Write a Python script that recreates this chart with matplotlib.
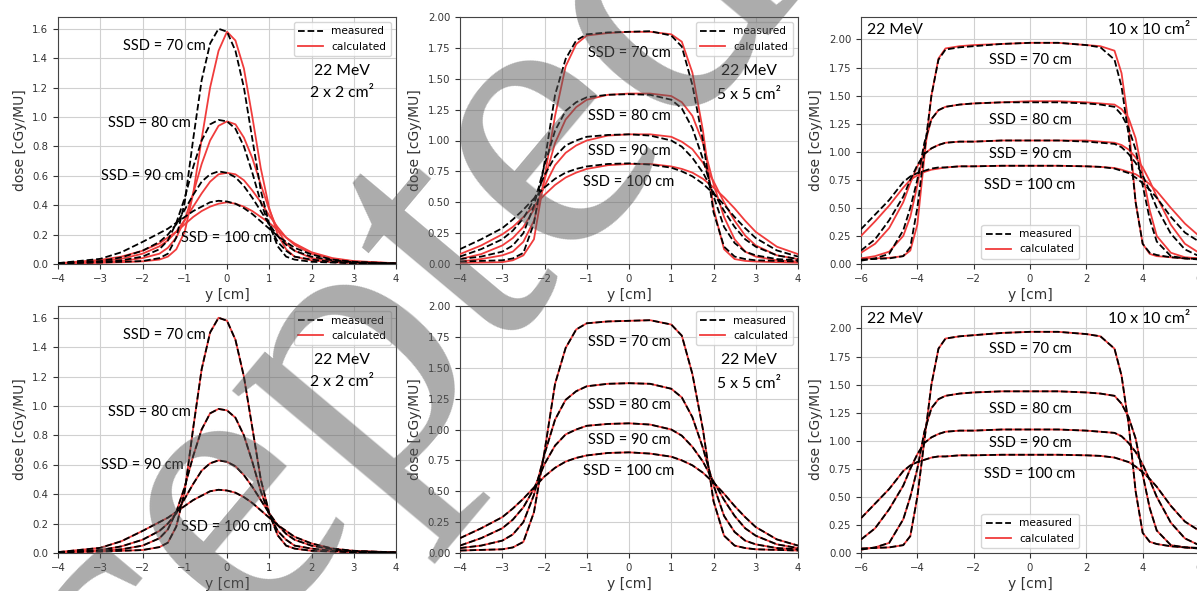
import matplotlib.pyplot as plt
from matplotlib.ticker import FormatStrFormatter, MultipleLocator

ssd = [70, 80, 90, 100]

# 2 x 2 cm2 field
x_2 = [-4, -3, -2.5, -2, -1.6, -1.4, -1.2, -1.0, -0.8, -0.6, -0.4, -0.2, 0,
       0.2, 0.4, 0.6, 0.8, 1.0, 1.2, 1.4, 1.6, 2, 2.5, 3, 4]
meas_2 = [
    [0.005, 0.01, 0.015, 0.02, 0.04, 0.07, 0.18, 0.42, 0.85, 1.25, 1.50, 1.60, 1.58,
     1.45, 1.20, 0.85, 0.50, 0.27, 0.12, 0.05, 0.03, 0.015, 0.01, 0.005, 0.003],
    [0.005, 0.015, 0.025, 0.05, 0.1, 0.16, 0.28, 0.45, 0.66, 0.84, 0.95, 0.98, 0.97,
     0.92, 0.80, 0.62, 0.42, 0.26, 0.15, 0.09, 0.05, 0.03, 0.015, 0.008, 0.003],
    [0.005, 0.02, 0.045, 0.09, 0.15, 0.2, 0.27, 0.37, 0.47, 0.56, 0.61, 0.63, 0.62,
     0.59, 0.53, 0.45, 0.36, 0.27, 0.19, 0.13, 0.09, 0.05, 0.025, 0.012, 0.003],
    [0.006, 0.035, 0.08, 0.15, 0.21, 0.24, 0.28, 0.32, 0.36, 0.39, 0.42, 0.43, 0.425,
     0.41, 0.38, 0.34, 0.29, 0.24, 0.19, 0.15, 0.11, 0.065, 0.03, 0.015, 0.004],
]
calc_2 = [
    [0.003, 0.008, 0.012, 0.018, 0.03, 0.05, 0.1, 0.22, 0.48, 0.85, 1.2, 1.45, 1.58,
     1.52, 1.33, 1.0, 0.65, 0.38, 0.2, 0.1, 0.05, 0.025, 0.012, 0.006, 0.003],
    [0.004, 0.012, 0.02, 0.04, 0.07, 0.11, 0.18, 0.3, 0.48, 0.68, 0.84, 0.94, 0.97,
     0.95, 0.86, 0.72, 0.54, 0.37, 0.23, 0.14, 0.09, 0.04, 0.02, 0.01, 0.003],
    [0.004, 0.018, 0.035, 0.07, 0.12, 0.16, 0.22, 0.30, 0.39, 0.48, 0.56, 0.61, 0.62,
     0.61, 0.57, 0.50, 0.42, 0.33, 0.25, 0.18, 0.13, 0.07, 0.035, 0.017, 0.004],
    [0.005, 0.028, 0.05, 0.09, 0.14, 0.18, 0.22, 0.27, 0.32, 0.36, 0.39, 0.41, 0.42,
     0.41, 0.39, 0.36, 0.32, 0.28, 0.23, 0.18, 0.14, 0.08, 0.04, 0.02, 0.005],
]

# 5 x 5 cm2 field
x_5 = [-4, -3.5, -3, -2.75, -2.5, -2.25, -2, -1.75, -1.5, -1.25, -1, -0.5, 0,
       0.5, 1, 1.25, 1.5, 1.75, 2, 2.25, 2.5, 2.75, 3, 3.5, 4]
meas_5 = [
    [0.02, 0.025, 0.03, 0.045, 0.09, 0.33, 0.82, 1.37, 1.66, 1.81, 1.86, 1.875, 1.88,
     1.885, 1.85, 1.76, 1.45, 1.0, 0.42, 0.14, 0.06, 0.04, 0.03, 0.025, 0.02],
    [0.04, 0.06, 0.1, 0.15, 0.25, 0.47, 0.8, 1.08, 1.24, 1.31, 1.35, 1.37, 1.375,
     1.37, 1.33, 1.26, 1.1, 0.85, 0.55, 0.3, 0.17, 0.1, 0.07, 0.04, 0.03],
    [0.06, 0.12, 0.2, 0.27, 0.37, 0.52, 0.72, 0.87, 0.96, 1.0, 1.03, 1.045, 1.05,
     1.04, 1.0, 0.95, 0.86, 0.74, 0.58, 0.43, 0.3, 0.2, 0.14, 0.07, 0.04],
    [0.12, 0.2, 0.29, 0.36, 0.44, 0.53, 0.62, 0.69, 0.74, 0.77, 0.79, 0.81, 0.815,
     0.805, 0.78, 0.75, 0.71, 0.65, 0.57, 0.48, 0.38, 0.29, 0.21, 0.11, 0.06],
]
calc_5 = [
    [0.01, 0.012, 0.015, 0.03, 0.07, 0.2, 0.7, 1.2, 1.6, 1.78, 1.85, 1.87, 1.88,
     1.88, 1.86, 1.8, 1.55, 1.08, 0.45, 0.12, 0.04, 0.025, 0.02, 0.015, 0.01],
    [0.02, 0.04, 0.07, 0.1, 0.18, 0.35, 0.68, 0.98, 1.17, 1.27, 1.33, 1.37, 1.38,
     1.38, 1.36, 1.31, 1.2, 0.98, 0.65, 0.38, 0.2, 0.1, 0.06, 0.03, 0.02],
    [0.04, 0.08, 0.15, 0.21, 0.3, 0.44, 0.63, 0.8, 0.9, 0.96, 1.0, 1.04, 1.05,
     1.05, 1.03, 0.99, 0.93, 0.82, 0.67, 0.5, 0.35, 0.23, 0.15, 0.07, 0.04],
    [0.08, 0.15, 0.24, 0.3, 0.38, 0.47, 0.56, 0.64, 0.7, 0.74, 0.77, 0.8, 0.81,
     0.81, 0.79, 0.77, 0.74, 0.69, 0.62, 0.54, 0.45, 0.35, 0.26, 0.14, 0.08],
]

# 10 x 10 cm2 field
x_10 = [-6, -5.5, -5, -4.5, -4.25, -4, -3.75, -3.5, -3.25, -3, -2.5, -2, -1, 0,
        1, 2, 2.5, 3, 3.25, 3.5, 3.75, 4, 4.25, 4.5, 5, 5.5, 6]
meas_10 = [
    [0.04, 0.045, 0.05, 0.07, 0.15, 0.5, 1.0, 1.5, 1.82, 1.91, 1.93, 1.94, 1.96, 1.97,
     1.97, 1.95, 1.93, 1.82, 1.58, 1.15, 0.55, 0.18, 0.1, 0.08, 0.06, 0.05, 0.045],
    [0.03, 0.05, 0.09, 0.3, 0.5, 0.75, 1.08, 1.29, 1.37, 1.40, 1.42, 1.43, 1.44, 1.44,
     1.44, 1.43, 1.42, 1.40, 1.33, 1.21, 1.02, 0.7, 0.4, 0.2, 0.07, 0.05, 0.04],
    [0.12, 0.22, 0.39, 0.6, 0.75, 0.88, 0.98, 1.03, 1.06, 1.08, 1.09, 1.09, 1.10, 1.10,
     1.10, 1.09, 1.08, 1.07, 1.04, 0.98, 0.9, 0.79, 0.65, 0.5, 0.27, 0.13, 0.07],
    [0.31, 0.44, 0.57, 0.73, 0.78, 0.81, 0.83, 0.85, 0.86, 0.86, 0.87, 0.87, 0.875, 0.875,
     0.875, 0.87, 0.865, 0.85, 0.83, 0.81, 0.77, 0.72, 0.66, 0.59, 0.42, 0.28, 0.2],
]
calc_10 = [
    [0.05, 0.05, 0.055, 0.07, 0.12, 0.35, 0.95, 1.5, 1.83, 1.92, 1.94, 1.95, 1.96, 1.97,
     1.97, 1.95, 1.94, 1.9, 1.7, 1.25, 0.55, 0.18, 0.09, 0.07, 0.06, 0.05, 0.05],
    [0.05, 0.07, 0.11, 0.25, 0.42, 0.7, 1.05, 1.29, 1.37, 1.40, 1.42, 1.43, 1.44, 1.45,
     1.45, 1.44, 1.43, 1.42, 1.38, 1.3, 1.12, 0.8, 0.48, 0.25, 0.1, 0.06, 0.05],
    [0.1, 0.18, 0.32, 0.55, 0.72, 0.87, 0.98, 1.03, 1.06, 1.08, 1.09, 1.09, 1.10, 1.10,
     1.10, 1.10, 1.09, 1.08, 1.06, 1.02, 0.95, 0.86, 0.74, 0.6, 0.35, 0.18, 0.1],
    [0.25, 0.38, 0.52, 0.68, 0.75, 0.79, 0.82, 0.84, 0.85, 0.86, 0.87, 0.87, 0.875, 0.875,
     0.875, 0.87, 0.865, 0.855, 0.84, 0.82, 0.8, 0.76, 0.71, 0.65, 0.5, 0.36, 0.25],
]

# in the lower row the calculated profiles lie on top of the measured ones
calc_2_new = meas_2
calc_5_new = meas_5
calc_10_new = meas_10

plt.rcParams['font.family'] = 'DejaVu Sans'
anno_font = 'Lato'
red = '#f03c3c'

fig = plt.figure(figsize=(11.97, 5.91), dpi=100)

W, H = 1197.0, 591.0
col_left = [58, 460, 861]
col_width = 338
row_top = [17, 306]
row_height = 247


def draw_panel(ax, x, meas, calc, xlim, ylim, ystep, yfmt, xstep, lab_pos, info, legend_loc):
    for i in range(4):
        ax.plot(x, calc[i], color=red, lw=1.3, zorder=3,
                label='calculated' if i == 0 else None)
        ax.plot(x, meas[i], color='black', ls='--', lw=1.3, zorder=4,
                label='measured' if i == 0 else None)
    ax.set_xlim(*xlim)
    ax.set_ylim(*ylim)
    ax.xaxis.set_major_locator(MultipleLocator(xstep))
    ax.yaxis.set_major_locator(MultipleLocator(ystep))
    ax.yaxis.set_major_formatter(FormatStrFormatter(yfmt))
    ax.grid(True, color='#d0d0d0', lw=0.8)
    ax.tick_params(labelsize=7.3, colors='#333333', length=3.5, width=0.8)
    for s in ax.spines.values():
        s.set_color('#444444')
        s.set_linewidth(0.8)
    ax.set_xlabel('y [cm]', fontsize=10, color='#333333', labelpad=3)
    ax.set_ylabel('dose [cGy/MU]', fontsize=10, color='#333333', labelpad=4)
    for i, (lx, ly) in enumerate(lab_pos):
        ax.text(lx, ly, 'SSD = %d cm' % ssd[i], family=anno_font, fontsize=10.5,
                ha='center', va='center', zorder=5)
    for t, tx, ty, ha in info:
        ax.text(tx, ty, t, family=anno_font, fontsize=11.3, ha=ha, va='center', zorder=5)
    h, l = ax.get_legend_handles_labels()
    ax.legend(h[::-1], l[::-1], loc=legend_loc, fontsize=7.6, handlelength=2.4,
              borderpad=0.4, labelspacing=0.5, framealpha=0.8)


panels = [
    (x_2, (-4, 4), (0, 1.68), 0.2, '%.1f', 1,
     [(-1.48, 1.48), (-1.84, 0.96), (-2.01, 0.60), (0.0, 0.18)],
     [('22 MeV', 2.72, 1.31, 'center'), ('2 x 2 cm²', 2.72, 1.165, 'center')],
     'upper right'),
    (x_5, (-4, 4), (0, 2.0), 0.25, '%.2f', 1,
     [(0.0, 1.706), (0.0, 1.198), (0.0, 0.917), (0.0, 0.666)],
     [('22 MeV', 2.84, 1.563, 'center'), ('5 x 5 cm²', 2.84, 1.368, 'center')],
     'upper right'),
    (x_10, (-6, 6), (0, 2.2), 0.25, '%.2f', 2,
     [(0.0, 1.82), (0.0, 1.286), (0.0, 0.978), (0.0, 0.708)],
     [('22 MeV', -5.78, 2.085, 'left'), ('10 x 10 cm²', 5.68, 2.085, 'right')],
     'lower center'),
]
data_top = [(meas_2, calc_2), (meas_5, calc_5), (meas_10, calc_10)]
data_bot = [(meas_2, calc_2_new), (meas_5, calc_5_new), (meas_10, calc_10_new)]

for r in range(2):
    for c in range(3):
        rect = [col_left[c] / W, 1 - (row_top[r] + row_height) / H,
                col_width / W, row_height / H]
        ax = fig.add_axes(rect)
        x, xlim, ylim, ystep, yfmt, xstep, lab_pos, info, loc = panels[c]
        meas, calc = data_top[c] if r == 0 else data_bot[c]
        draw_panel(ax, x, meas, calc, xlim, ylim, ystep, yfmt, xstep, lab_pos, info, loc)
        if c == 2:
            ax.set_yticks([0, 0.25, 0.5, 0.75, 1.0, 1.25, 1.5, 1.75, 2.0])

# watermark of the accepted manuscript
fig.text(250 / W, 1 - 500 / H, 'Accepted', family='Liberation Serif', fontsize=285,
         rotation=50, rotation_mode='anchor', ha='center', va='center',
         color='#5a5a5a', alpha=0.5, zorder=20)

fig.savefig('out.png', dpi=100)
